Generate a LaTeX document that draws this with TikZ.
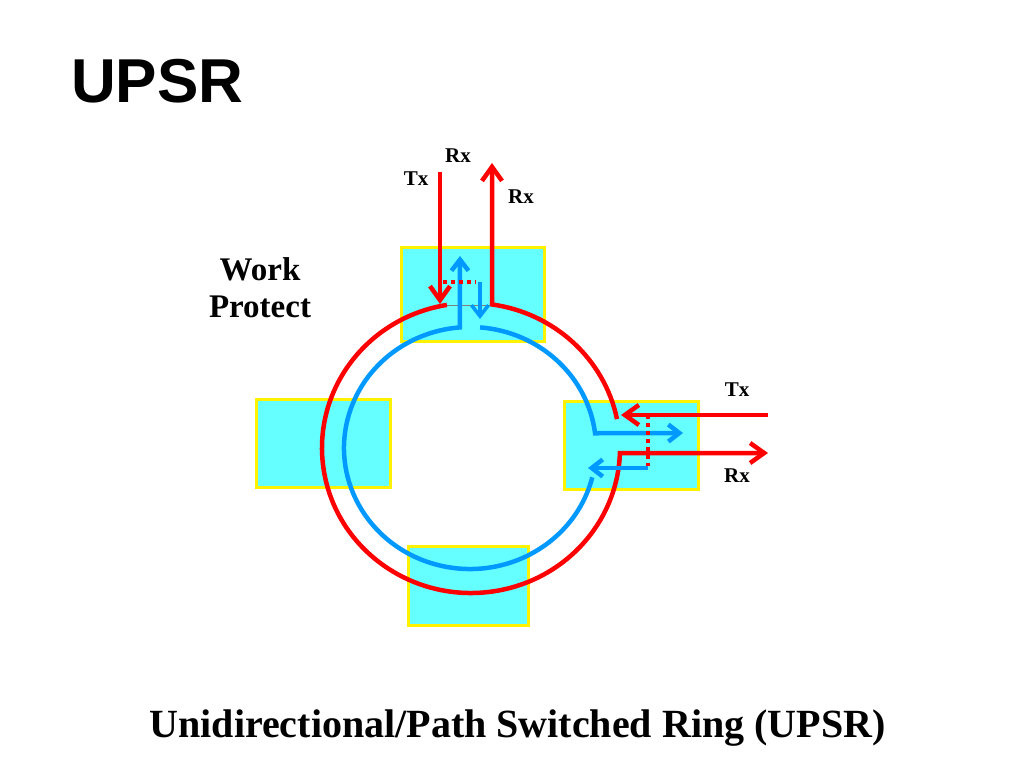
\documentclass[tikz,border=0pt]{standalone}
\usepackage{fontspec}
\setmainfont{Liberation Serif}
\newfontfamily\titlefont{Liberation Sans}
\usetikzlibrary{arrows.meta,calc}
\definecolor{nodefill}{RGB}{102,255,255}
\definecolor{ringred}{RGB}{255,0,0}
\definecolor{ringblue}{RGB}{0,153,255}
\begin{document}
\begin{tikzpicture}[x=1pt,y=-1pt,
    box/.style={draw=yellow,fill=nodefill,line width=3pt,inner sep=0pt},
    redline/.style={draw=ringred,line width=4.5pt},
    blueline/.style={draw=ringblue,line width=4.5pt},
    redtip/.style={-{Straight Barb[length=14pt,width=20pt]}},
    bluetip/.style={-{Straight Barb[length=11pt,width=17pt]}},
    dotline/.style={draw=ringred,line width=3.5pt,dash pattern=on 4pt off 4pt},
    lbl/.style={font=\bfseries\fontsize{21}{21}\selectfont,inner sep=0pt,anchor=base}]
      \fill[white] (0,0) rectangle (1024,768);
      \useasboundingbox (0,0) rectangle (1024,768);
      %nodi
      \node[box,minimum width=143pt,minimum height=94pt] (boxN) at (473,294.5) {};
      \node[box,minimum width=134pt,minimum height=88pt] (boxW) at (323.5,443.5) {};
      \node[box,minimum width=134pt,minimum height=88pt] (boxE) at (631.5,445.5) {};
      \node[box,minimum width=120pt,minimum height=79pt] (boxS) at (468.5,586) {};
      %anelli
      \coordinate (O) at (471,448);
      \coordinate (Ob) at (470,448);
      \coordinate (rN1) at ($(O)+(260.7:149 and 145)$);
      \coordinate (rE1) at ($(O)+(348.5:149 and 145)$);
      \coordinate (bN2) at ($(Ob)+(274.6:126 and 121)$);
      \coordinate (bE2) at ($(Ob)+(14:126 and 121)$);
      \coordinate (txN) at (440,172);
      \coordinate (txNend) at (440,304);
      \coordinate (rxN) at (492,163);
      \coordinate (txE) at (768,415);
      \coordinate (txEend) at (621,415);
      \coordinate (rxE) at (768,453);
      \coordinate (upN) at (460,256);
      \coordinate (bE) at (683,433);
      \draw[gray,line width=0.6pt] (447,305) -- (492,305);
      \draw[redline,redtip] (rE1) arc[start angle=348.5,end angle=278.1,x radius=149,y radius=145] -- (rxN);
      \draw[redline,redtip] (rN1) arc[start angle=260.7,end angle=2,x radius=149,y radius=145] -- (rxE);
      \draw[blueline,bluetip] (bN2) arc[start angle=274.6,end angle=353,x radius=126,y radius=121] -- (bE);
      \draw[blueline,bluetip] (bE2) arc[start angle=14,end angle=265.4,x radius=126,y radius=121] -- (upN);
      %commutazione
      \draw[redline,redtip] (txN) -- (txNend);
      \draw[redline,redtip] (txE) -- (txEend);
      \draw[dotline] (443,282) -- (476,282);
      \draw[dotline] (648,415) -- (648,466);
      \draw[blueline,line width=3.5pt,bluetip] (480,282) -- (480,319);
      \draw[blueline,bluetip] (648,468) -- (588,468);
      %testi
      \node[font=\titlefont\bfseries\fontsize{62}{62}\selectfont,anchor=base west,inner sep=0pt] (title) at (71,102) {UPSR};
      \node[font=\bfseries\fontsize{33}{33}\selectfont,inner sep=0pt,anchor=base] (work) at (260,280) {Work};
      \node[font=\bfseries\fontsize{33}{33}\selectfont,inner sep=0pt,anchor=base] (protect) at (260,317) {Protect};
      \node[lbl] (txNlbl) at (416,185) {Tx};
      \node[lbl] (rxNlbl1) at (458,162) {Rx};
      \node[lbl] (rxNlbl2) at (521,203) {Rx};
      \node[lbl] (txElbl) at (737,396) {Tx};
      \node[lbl] (rxElbl) at (737,482) {Rx};
      \node[font=\bfseries\fontsize{40}{40}\selectfont,inner sep=0pt,anchor=base] (caption) at (517.5,737) {Unidirectional/Path Switched Ring (UPSR)};
    \end{tikzpicture}
\end{document}
